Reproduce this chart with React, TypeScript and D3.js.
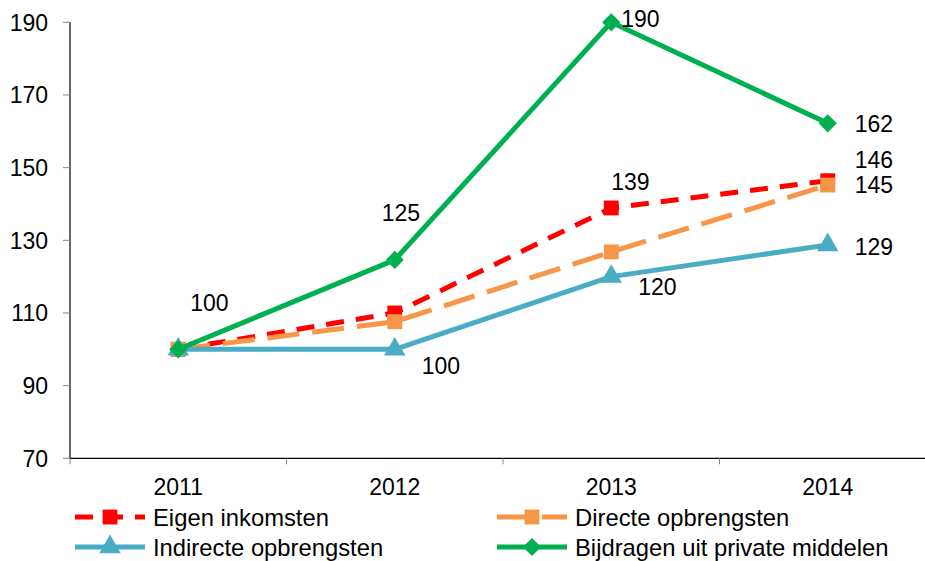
import React from "react";
import * as d3 from "d3";

const years = ["2011", "2012", "2013", "2014"];
const eigen = [100, 110, 138.9, 146.4];
const directe = [100, 107.6, 126.8, 145.2];
const indirecte = [100, 100, 120, 128.7];
const bijdragen = [100, 124.6, 190, 162.2];
const yTicks = [70, 90, 110, 130, 150, 170, 190];

const seriesNames = ["Eigen inkomsten", "Directe opbrengsten", "Indirecte opbrengsten", "Bijdragen uit private middelen"];

const W = 925, H = 561;
const FONT = "Liberation Sans, Arial, sans-serif";

type Ser = { name: string; values: number[]; color: string; dash: string | null; symbol: d3.SymbolType; size: number; rot: number };

const series: Ser[] = [
  { name: seriesNames[0], values: eigen, color: "#FF0000", dash: "18,12", symbol: d3.symbolSquare, size: 220, rot: 0 },
  { name: seriesNames[1], values: directe, color: "#F79646", dash: "32,13", symbol: d3.symbolSquare, size: 220, rot: 0 },
  { name: seriesNames[2], values: indirecte, color: "#4BACC6", dash: null, symbol: d3.symbolTriangle, size: 200, rot: 0 },
  { name: seriesNames[3], values: bijdragen, color: "#00B050", dash: null, symbol: d3.symbolSquare, size: 165, rot: 45 },
];

// label placement: series index, point index, offset from point (left x, center y)
const labelPlacement = [
  { s: 3, i: 0, dx: 12, dy: -47 },
  { s: 3, i: 1, dx: -13, dy: -47 },
  { s: 3, i: 2, dx: 10, dy: -4 },
  { s: 3, i: 3, dx: 27, dy: 0 },
  { s: 0, i: 2, dx: 0, dy: -26 },
  { s: 0, i: 3, dx: 27, dy: -21 },
  { s: 1, i: 3, dx: 27, dy: 0 },
  { s: 2, i: 1, dx: 27, dy: 16 },
  { s: 2, i: 2, dx: 27, dy: 10 },
  { s: 2, i: 3, dx: 27, dy: 2 },
];

export default function App() {
  const left = 70, right = 936, top = 22.3, bottom = 458.3;
  const x = d3.scaleBand<string>().domain(years).range([left, right]);
  const y = d3.scaleLinear().domain([70, 190]).range([bottom, top]);
  const cx = (yr: string) => (x(yr) as number) + x.bandwidth() / 2;
  const line = d3.line<number>().x((_, i) => cx(years[i])).y((v) => y(v));
  const fs = 23;
  const lfs = 23.8;

  const legend = [
    { s: 0, lx: 75, tx: 153, cy: 517 },
    { s: 1, lx: 497, tx: 575, cy: 517 },
    { s: 2, lx: 75, tx: 153, cy: 547 },
    { s: 3, lx: 497, tx: 575, cy: 547 },
  ];

  return (
    <svg width={W} height={H} style={{ position: "absolute", left: 0, top: 0, background: "#fff" }} fontFamily={FONT}>
      {/* y axis */}
      <line x1={left} x2={left} y1={top} y2={bottom} stroke="#000" strokeWidth={1.2} />
      {yTicks.map((t) => (
        <g key={t}>
          <line x1={left - 7} x2={left} y1={y(t)} y2={y(t)} stroke="#888" strokeWidth={1} />
          <text x={48} y={y(t)} dy="0.36em" textAnchor="end" fontSize={fs} fill="#000">{t}</text>
        </g>
      ))}
      {/* x axis */}
      <line x1={left} x2={right} y1={bottom} y2={bottom} stroke="#000" strokeWidth={1.2} />
      {years.map((yr) => (
        <g key={yr}>
          <line x1={x(yr) as number} x2={x(yr) as number} y1={bottom} y2={bottom + 6} stroke="#888" strokeWidth={1} />
          <text x={cx(yr)} y={486.7} dy="0.36em" textAnchor="middle" fontSize={fs}>{yr}</text>
        </g>
      ))}
      <line x1={right} x2={right} y1={bottom} y2={bottom + 6} stroke="#888" />
      {/* series */}
      {series.map((s, si) => (
        <g key={si}>
          <path d={line(s.values) as string} fill="none" stroke={s.color} strokeWidth={5} strokeDasharray={s.dash ?? undefined} strokeLinejoin="round" />
          {s.values.map((v, i) => (
            <path key={i} d={d3.symbol().type(s.symbol).size(s.size)() as string} transform={`translate(${cx(years[i])},${y(v)}) rotate(${s.rot})`} fill={s.color} />
          ))}
        </g>
      ))}
      {/* data labels */}
      {labelPlacement.map((l, k) => {
        const v = series[l.s].values[l.i];
        return (
          <text key={k} x={cx(years[l.i]) + l.dx} y={y(v) + l.dy} dy="0.36em" fontSize={fs}>{Math.round(v)}</text>
        );
      })}
      {/* legend */}
      {legend.map((g, k) => {
        const s = series[g.s];
        const mid = g.lx + 35;
        return (
          <g key={k}>
            <line x1={g.lx} x2={g.lx + 70} y1={g.cy} y2={g.cy} stroke={s.color} strokeWidth={5} strokeDasharray={s.dash ?? undefined} />
            <path d={d3.symbol().type(s.symbol).size(s.size)() as string} transform={`translate(${mid},${g.cy}) rotate(${s.rot})`} fill={s.color} />
            <text x={g.tx} y={g.cy} dy="0.36em" fontSize={lfs}>{s.name}</text>
          </g>
        );
      })}
    </svg>
  );
}
